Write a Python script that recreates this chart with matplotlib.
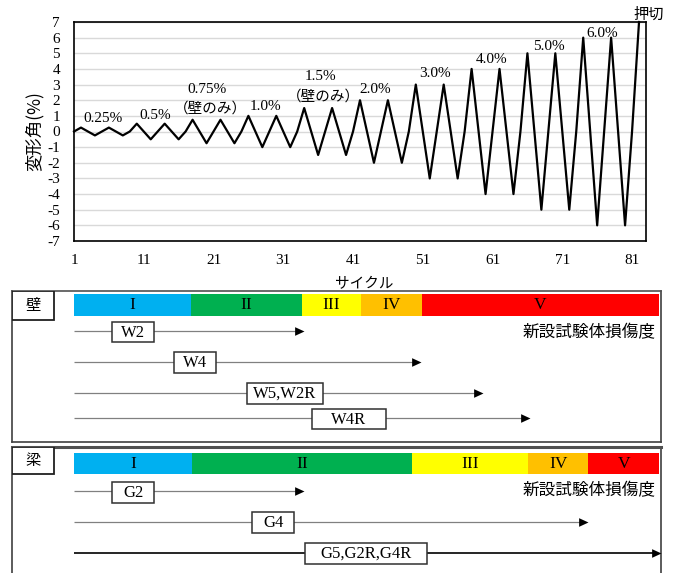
import matplotlib
matplotlib.use('Agg')
import matplotlib.pyplot as plt
from matplotlib.patches import Rectangle

plt.rcParams['font.family'] = ['Liberation Serif', 'Noto Sans CJK JP', 'DejaVu Sans']
CJK = ['Noto Sans CJK JP', 'DejaVu Sans']
SERIF = ['Liberation Serif', 'Noto Sans CJK JP']

# ---------------- data ----------------
cycles = list(range(1, 83))
drift = [0, 0.25, 0, -0.25, 0, 0.25, 0, -0.25, 0,
         0.5, 0, -0.5, 0, 0.5, 0, -0.5, 0,
         0.75, 0, -0.75, 0, 0.75, 0, -0.75, 0,
         1.0, 0, -1.0, 0, 1.0, 0, -1.0, 0,
         1.5, 0, -1.5, 0, 1.5, 0, -1.5, 0,
         2.0, 0, -2.0, 0, 2.0, 0, -2.0, 0,
         3.0, 0, -3.0, 0, 3.0, 0, -3.0, 0,
         4.0, 0, -4.0, 0, 4.0, 0, -4.0, 0,
         5.0, 0, -5.0, 0, 5.0, 0, -5.0, 0,
         6.0, 0, -6.0, 0, 6.0, 0, -6.0, 0,
         7.0]
x_ticks = [1, 11, 21, 31, 41, 51, 61, 71, 81]
y_ticks = [-7, -6, -5, -4, -3, -2, -1, 0, 1, 2, 3, 4, 5, 6, 7]

amp_labels = ['0.25%', '0.5%', '0.75%', '（壁のみ）', '1.0%', '1.5%', '（壁のみ）',
              '2.0%', '3.0%', '4.0%', '5.0%', '6.0%']
amp_label_x = [5.1, 12.6, 20.0, 20.6, 28.5, 36.4, 36.8, 44.2, 52.8, 60.9, 69.1, 76.7]
amp_label_y = [0.80, 1.01, 2.70, 1.46, 1.63, 3.50, 2.22, 2.70, 3.72, 4.62, 5.42, 6.28]

stage_names = ['I', 'II', 'III', 'IV', 'V']
stage_colors = ['#00B0F0', '#00B050', '#FFFF00', '#FFC000', '#FF0000']
wall_stage_edges = [1, 17.77, 33.69, 42.10, 50.85, 84.86]
beam_stage_edges = [1, 17.92, 49.41, 66.13, 74.73, 84.86]

wall_specimens = ['W2', 'W4', 'W5,W2R', 'W4R']
wall_arrow_start = [1, 1, 1, 1]
wall_arrow_end = [34.0, 50.75, 59.6, 66.4]
beam_specimens = ['G2', 'G4', 'G5,G2R,G4R']
beam_arrow_start = [1, 1, 1]
beam_arrow_end = [34.0, 74.73, 85.1]

# ---------------- layout (pixels) ----------------
W, H = 678, 573
fig = plt.figure(figsize=(W / 100, H / 100), dpi=100)

AX_L, AX_R, AX_T, AX_B = 74, 646, 22, 241
ax = fig.add_axes([AX_L / W, 1 - AX_B / H, (AX_R - AX_L) / W, (AX_B - AX_T) / H])
ax.plot(cycles, drift, color='black', lw=1.6, clip_on=False, zorder=3)
ax.set_xlim(1, 83)
ax.set_ylim(-7, 7)
ax.set_xticks(x_ticks)
ax.set_yticks(y_ticks)
ax.set_xticklabels([str(v) for v in x_ticks], family=SERIF)
ax.set_yticklabels([str(v) for v in y_ticks], family=SERIF)
ax.tick_params(axis='both', length=0, labelsize=11)
ax.tick_params(axis='x', pad=9)
ax.tick_params(axis='y', pad=10)
ax.grid(axis='y', color='#d9d9d9', lw=1.0)
ax.set_axisbelow(True)
for s in ax.spines.values():
    s.set_color('black')
    s.set_linewidth(1.2)

ax.set_ylabel('変形角(%)', family=CJK, fontsize=12.5)
ax.yaxis.set_label_coords((34 - AX_L) / (AX_R - AX_L), 0.5)
ax.yaxis.label.set_va('center')
ax.set_xlabel('サイクル', family=CJK, fontsize=10.5)
ax.xaxis.set_label_coords((364 - AX_L) / (AX_R - AX_L), -(284 - AX_B) / (AX_B - AX_T))
ax.xaxis.label.set_va('center')

for t, x, y in zip(amp_labels, amp_label_x, amp_label_y):
    if '壁' in t:
        ax.text(x, y, t, family=CJK, fontsize=10.5, ha='center', va='center')
    else:
        ax.text(x, y, t, family=SERIF, fontsize=11, ha='center', va='center')
ax.text(83.4, 7.5, '押切', family=CJK, fontsize=11, ha='center', va='center', clip_on=False)

ppc = (AX_R - AX_L) / (83 - 1)


def cyc(px):
    return 1 + (px - AX_L) / ppc


PAN_L, PAN_R = 12, 661
TAG_R = 54
BOX_H = 20.5


def panel(top, bottom, tag, tag_bottom, bar_top, bar_bot, edges, specimens, starts, ends,
          rows, box_l, box_r, bold_last, top_lw, note_y):
    pa = fig.add_axes([PAN_L / W, 1 - bottom / H, (PAN_R - PAN_L) / W, (bottom - top) / H])
    pa.set_xlim(cyc(PAN_L), cyc(PAN_R))
    pa.set_ylim(bottom, top)
    pa.set_xticks([])
    pa.set_yticks([])
    for k, s in pa.spines.items():
        s.set_color('#404040')
        s.set_linewidth(1.2)
    pa.spines['top'].set_linewidth(top_lw)
    pa.spines['top'].set_color('#505050')
    # tag box
    pa.add_patch(Rectangle((cyc(PAN_L), top), cyc(TAG_R) - cyc(PAN_L), tag_bottom - top,
                           facecolor='white', edgecolor='#202020', lw=1.3, zorder=4))
    pa.text((cyc(PAN_L) + cyc(TAG_R)) / 2, (top + tag_bottom) / 2, tag, family=CJK,
            fontsize=11, ha='center', va='center', zorder=5)
    # stage bar
    for i, name in enumerate(stage_names):
        x0, x1 = edges[i], edges[i + 1]
        pa.add_patch(Rectangle((x0, bar_top), x1 - x0, bar_bot - bar_top,
                               facecolor=stage_colors[i], edgecolor='none', zorder=2))
        pa.text((x0 + x1) / 2, (bar_top + bar_bot) / 2 + 0.5, name, family=SERIF,
                fontsize=12.5, ha='center', va='center', zorder=3)
    pa.text(cyc(656), note_y, '新設試験体損傷度', family=CJK, fontsize=12,
            ha='right', va='center')
    tri = [(0, 0), (-1, 0.46), (-1, -0.46), (0, 0)]
    for i, name in enumerate(specimens):
        y = rows[i]
        heavy = bold_last and i == len(specimens) - 1
        pa.plot([starts[i], ends[i] - 1.0], [y, y], color='black' if heavy else '#808080',
                lw=1.2 if heavy else 0.9, solid_capstyle='butt', zorder=2, clip_on=False)
        pa.plot([ends[i]], [y], marker=tri, markersize=13.5, color='black', mew=0,
                linestyle='none', zorder=3, clip_on=False)
        bx0, bx1 = box_l[i], box_r[i]
        by = y + (1.5 if i == 0 else 0.8)
        pa.add_patch(Rectangle((bx0, by - BOX_H / 2), bx1 - bx0, BOX_H, facecolor='white',
                               edgecolor='#303030', lw=1.1, zorder=4))
        pa.text((bx0 + bx1) / 2, by + 0.5, name, family=SERIF, fontsize=12,
                ha='center', va='center', zorder=5)
    return pa


# wall panel
panel(291, 442, '壁', 320, 294, 315.7, wall_stage_edges, wall_specimens,
      wall_arrow_start, wall_arrow_end,
      [330.7, 361.7, 392.7, 418.3],
      [6.45, 15.34, 25.80, 35.08], [12.47, 21.36, 36.65, 45.68], False, 1.2, 332.7)

# beam panel
panel(447, 585, '梁', 474, 453.3, 474, beam_stage_edges, beam_specimens,
      beam_arrow_start, beam_arrow_end,
      [491, 521.7, 552.7],
      [6.45, 26.52, 34.12], [12.47, 32.58, 51.65], True, 2.2, 490.7)

fig.savefig('out.png', dpi=100)
